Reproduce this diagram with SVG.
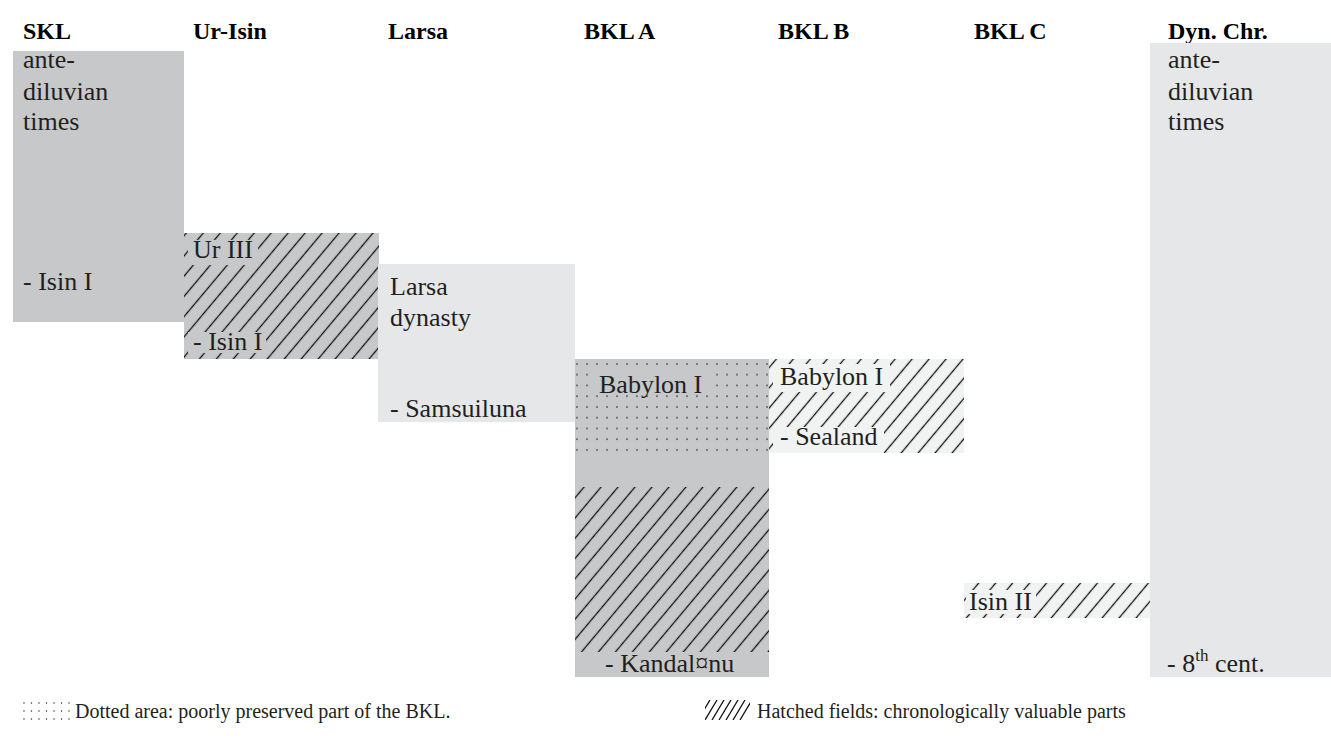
<svg xmlns="http://www.w3.org/2000/svg" width="1331" height="741" viewBox="0 0 1331 741">
<style>
.hd{font-family:"Liberation Serif","Times New Roman",serif;font-weight:bold;font-size:24px;fill:#000}
.tx{font-family:"Liberation Serif","Times New Roman",serif;font-size:26px;fill:#231f20}
.lg{font-family:"Liberation Serif","Times New Roman",serif;font-size:20px;fill:#231f20}
.g1{fill:#c7c8ca}.g2{fill:#e6e7e8}.g3{fill:#f1f2f2}
.ln{stroke:#111;stroke-width:1.3}
</style>
<defs>
<pattern id="hatch" patternUnits="userSpaceOnUse" width="13" height="13" patternTransform="rotate(40)">
<line x1="6.5" y1="-1" x2="6.5" y2="14" class="ln"/>
</pattern>
<pattern id="dots" patternUnits="userSpaceOnUse" x="572" y="359" width="10" height="10.75">
<circle cx="5" cy="5" r="0.8" fill="#231f20"/>
</pattern>
<clipPath id="lgclip"><rect x="705" y="700" width="45" height="20"/></clipPath>
</defs>
<g id="headers">
<text class="hd" x="23" y="39">SKL</text>
<text class="hd" x="193" y="39">Ur-Isin</text>
<text class="hd" x="388" y="39">Larsa</text>
<text class="hd" x="584" y="39">BKL A</text>
<text class="hd" x="778" y="39">BKL B</text>
<text class="hd" x="974" y="39">BKL C</text>
<text class="hd" x="1168" y="39">Dyn. Chr.</text>
</g>
<g id="node-skl">
<rect class="g1" x="13" y="51" width="171" height="271"/>
<text class="tx" x="23" y="68">ante-</text>
<text class="tx" x="23" y="100">diluvian</text>
<text class="tx" x="23" y="130">times</text>
<text class="tx" x="23" y="290">- Isin I</text>
</g>
<g id="node-ur3">
<rect class="g1" x="184" y="233" width="195" height="126"/>
<rect fill="url(#hatch)" x="184" y="233" width="195" height="126"/>
<rect class="g1" x="188" y="240" width="70" height="25"/>
<rect class="g1" x="188" y="332" width="78" height="21"/>
<text class="tx" x="193" y="258">Ur III</text>
<text class="tx" x="193" y="350">- Isin I</text>
</g>
<g id="node-larsa">
<rect class="g2" x="378" y="264" width="197" height="158"/>
<text class="tx" x="390" y="295">Larsa</text>
<text class="tx" x="390" y="326">dynasty</text>
<text class="tx" x="390" y="417">- Samsuiluna</text>
</g>
<g id="node-bkla">
<rect class="g1" x="575" y="359" width="194" height="318"/>
<rect fill="url(#dots)" x="575" y="359" width="194" height="94"/>
<rect class="g1" x="593" y="369" width="120" height="23"/>
<rect fill="url(#hatch)" x="575" y="487" width="194" height="165"/>
<text class="tx" x="599" y="393">Babylon I</text>
<text class="tx" x="605" y="672">- Kandal¤nu</text>
</g>
<g id="node-bklb">
<rect class="g3" x="769" y="359" width="195" height="94"/>
<rect fill="url(#hatch)" x="769" y="359" width="195" height="94"/>
<rect class="g3" x="773" y="364" width="117" height="28"/>
<rect class="g3" x="773" y="427" width="111" height="26"/>
<text class="tx" x="780" y="385">Babylon I</text>
<text class="tx" x="780" y="445">- Sealand</text>
</g>
<g id="node-isin2">
<rect class="g3" x="964" y="583" width="186" height="35"/>
<rect fill="url(#hatch)" x="964" y="583" width="186" height="35"/>
<rect class="g3" x="966" y="590" width="70" height="24"/>
<text class="tx" x="969" y="610">Isin II</text>
</g>
<g id="node-dyn">
<rect class="g2" x="1150" y="43" width="181" height="634"/>
<text class="tx" x="1168" y="68">ante-</text>
<text class="tx" x="1168" y="100">diluvian</text>
<text class="tx" x="1168" y="130">times</text>
<text class="tx" x="1167" y="672">- 8<tspan font-size="17" dy="-11">th</tspan><tspan dy="11"> cent.</tspan></text>
</g>
<g id="connectors"></g>
<g id="legend">
<g fill="#231f20">
<circle cx="24" cy="703" r="0.7"/><circle cx="31.5" cy="703" r="0.7"/><circle cx="39" cy="703" r="0.7"/><circle cx="46.5" cy="703" r="0.7"/><circle cx="54" cy="703" r="0.7"/><circle cx="61.5" cy="703" r="0.7"/><circle cx="69" cy="703" r="0.7"/>
<circle cx="24" cy="711" r="0.7"/><circle cx="31.5" cy="711" r="0.7"/><circle cx="39" cy="711" r="0.7"/><circle cx="46.5" cy="711" r="0.7"/><circle cx="54" cy="711" r="0.7"/><circle cx="61.5" cy="711" r="0.7"/><circle cx="69" cy="711" r="0.7"/>
<circle cx="24" cy="719" r="0.7"/><circle cx="31.5" cy="719" r="0.7"/><circle cx="39" cy="719" r="0.7"/><circle cx="46.5" cy="719" r="0.7"/><circle cx="54" cy="719" r="0.7"/><circle cx="61.5" cy="719" r="0.7"/><circle cx="69" cy="719" r="0.7"/>
</g>
<text class="lg" x="75" y="718">Dotted area: poorly preserved part of the BKL.</text>
<g clip-path="url(#lgclip)">
<line class="ln" x1="698" y1="720" x2="710" y2="700"/>
<line class="ln" x1="705" y1="720" x2="717" y2="700"/>
<line class="ln" x1="712" y1="720" x2="724" y2="700"/>
<line class="ln" x1="719" y1="720" x2="731" y2="700"/>
<line class="ln" x1="726" y1="720" x2="738" y2="700"/>
<line class="ln" x1="733" y1="720" x2="745" y2="700"/>
<line class="ln" x1="740" y1="720" x2="752" y2="700"/>
</g>
<text class="lg" x="757" y="718">Hatched fields: chronologically valuable parts</text>
</g>
</svg>
